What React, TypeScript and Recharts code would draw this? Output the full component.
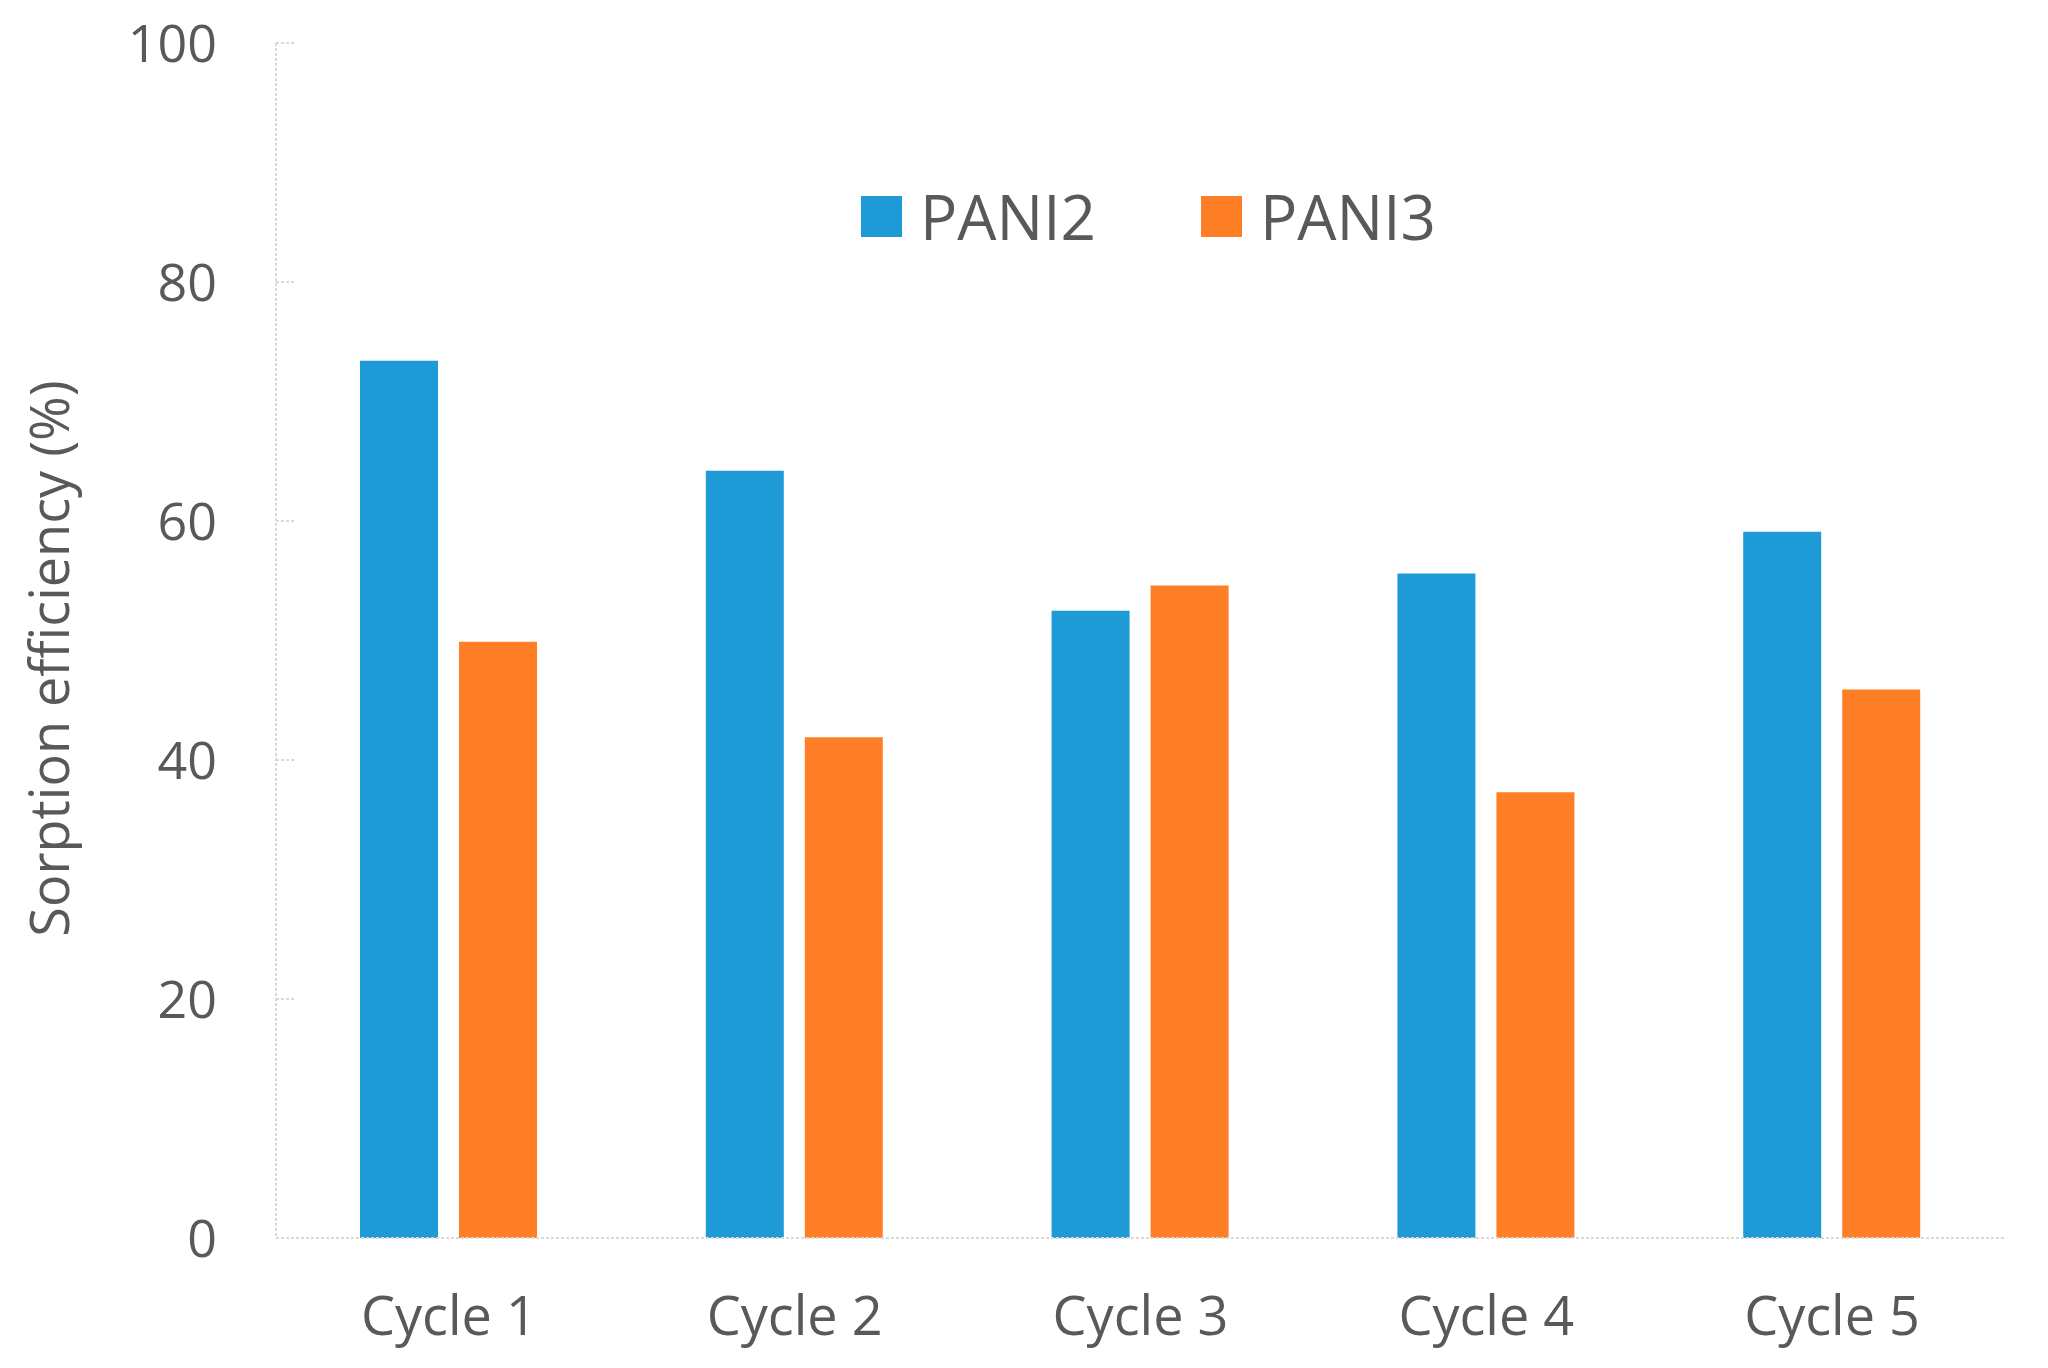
import React from "react";
import { BarChart, Bar, XAxis, YAxis, Legend } from "recharts";

const categories = ["Cycle 1", "Cycle 2", "Cycle 3", "Cycle 4", "Cycle 5"];
const pani2 = [73.4, 64.2, 52.5, 55.6, 59.1];
const pani3 = [49.9, 41.9, 54.6, 37.3, 45.9];
const yTicks = [0, 20, 40, 60, 80, 100];
const seriesNames = ["PANI2", "PANI3"];
const colors = ["#1E9BD7", "#FF7F27"];

const data = categories.map((c, i) => ({ name: c, PANI2: pani2[i], PANI3: pani3[i] }));

const FONT = "'Open Sans', 'Noto Sans', sans-serif";
const TEXT = "#595959";
const AXIS = "#D9D9D9";

const YTick = (props: any) => {
  const { x, y, payload } = props;
  return (
    <g>
      <line x1={x + 59} x2={x + 78} y1={y} y2={y} stroke={AXIS} strokeWidth={2} strokeDasharray="3 2" />
      <text x={x} y={y} dy="0.36em" textAnchor="end" fill={TEXT} fontSize={52} fontFamily={FONT}>
        {payload.value}
      </text>
    </g>
  );
};

const XTick = (props: any) => {
  const { x, y, payload } = props;
  return (
    <text x={x} y={y + 95} textAnchor="middle" fill={TEXT} fontSize={54} fontFamily={FONT}>
      {payload.value}
    </text>
  );
};

const YLabel = (props: any) => {
  const { viewBox } = props;
  const cx = 48;
  const cy = viewBox.y + viewBox.height / 2 + 18;
  return (
    <text
      x={cx}
      y={cy}
      transform={`rotate(-90, ${cx}, ${cy})`}
      textAnchor="middle"
      dominantBaseline="central"
      fill={TEXT}
      fontSize={54}
      fontFamily={FONT}
    >
      Sorption efficiency (%)
    </text>
  );
};

const renderLegend = () => (
  <div
    style={{
      display: "flex",
      justifyContent: "center",
      alignItems: "center",
      fontFamily: FONT,
      fontSize: 62,
      color: TEXT,
      paddingLeft: 16,
    }}
  >
    {seriesNames.map((n, i) => (
      <div key={n} style={{ display: "flex", alignItems: "center", marginLeft: i === 0 ? 0 : 105 }}>
        <div style={{ width: 41, height: 41, background: colors[i], marginRight: 18 }} />
        <span style={{ lineHeight: "64px" }}>{n}</span>
      </div>
    ))}
  </div>
);

export default function App() {
  return (
    <div style={{ position: "absolute", left: 0, top: 0, width: 2048, height: 1368, background: "#fff" }}>
      <BarChart
        width={2048}
        height={1368}
        data={data}
        margin={{ top: 43, right: 43, left: 0, bottom: 0 }}
        barSize={78}
        barGap={21}
      >
        <XAxis
          dataKey="name"
          height={130}
          tickLine={false}
          tickSize={0}
          tick={<XTick />}
          axisLine={{ stroke: AXIS, strokeWidth: 2, strokeDasharray: "3 2" }}
        />
        <YAxis
          width={276}
          domain={[0, 100]}
          ticks={yTicks}
          interval={0}
          tickLine={false}
          tickSize={0}
          tickMargin={59}
          tick={<YTick />}
          axisLine={{ stroke: AXIS, strokeWidth: 2, strokeDasharray: "3 2" }}
          label={<YLabel />}
        />
        <Legend
          layout="vertical"
          align="center"
          verticalAlign="middle"
          content={renderLegend}
          wrapperStyle={{ top: 184, left: 276, width: 1729 }}
        />
        <Bar dataKey="PANI2" fill={colors[0]} isAnimationActive={false} />
        <Bar dataKey="PANI3" fill={colors[1]} isAnimationActive={false} />
      </BarChart>
    </div>
  );
}
